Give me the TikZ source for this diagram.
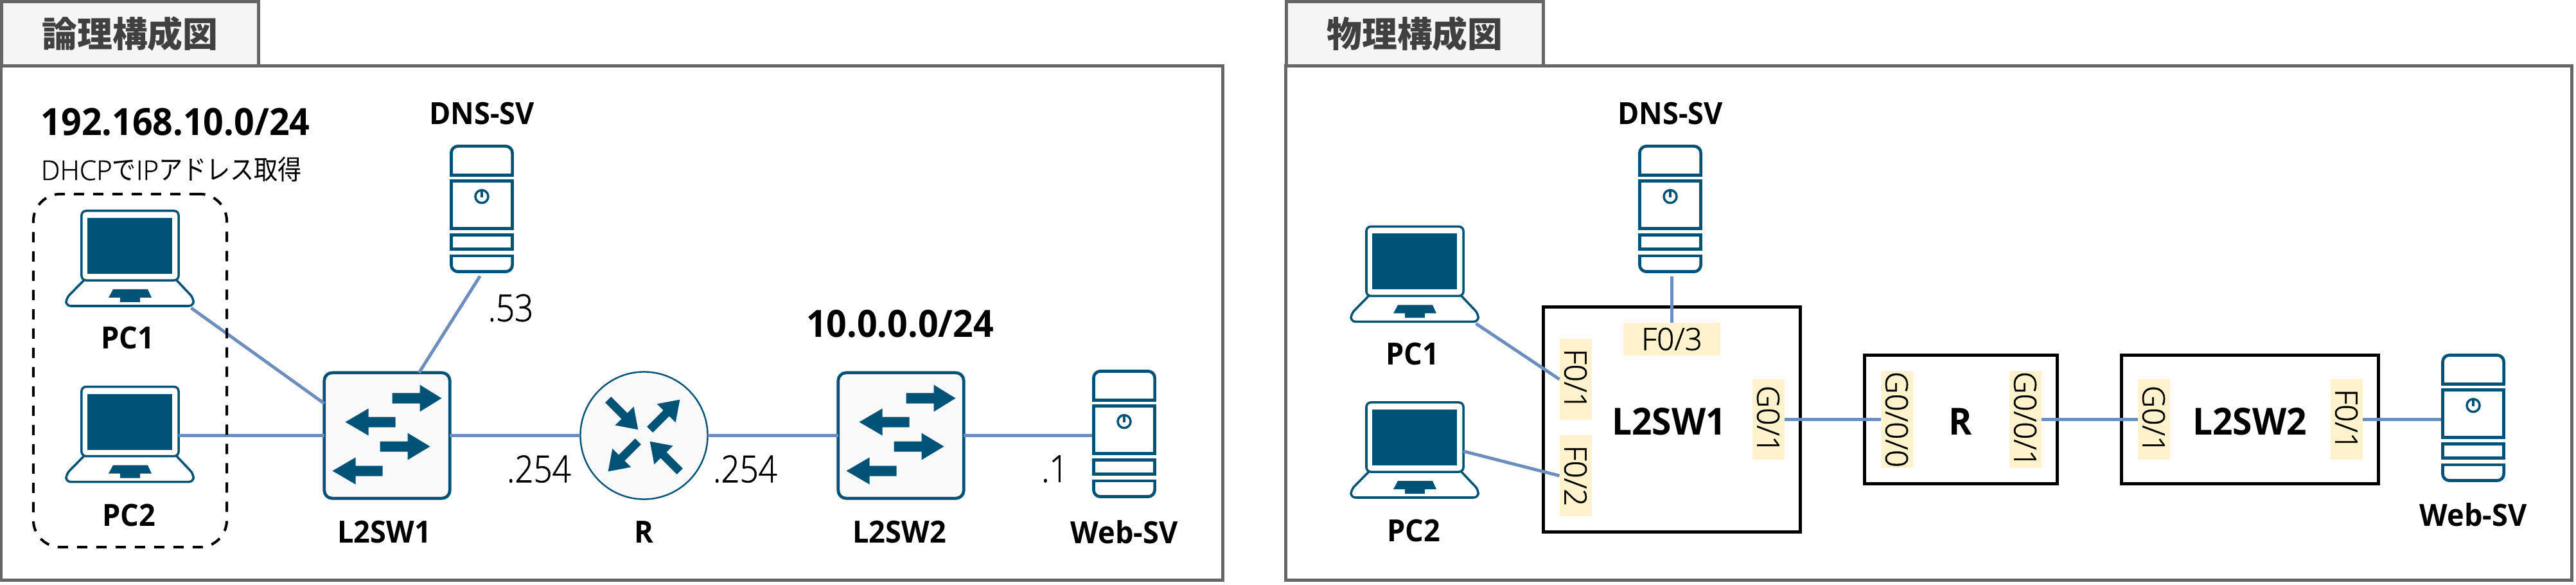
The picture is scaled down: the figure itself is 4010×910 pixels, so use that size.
\documentclass[tikz,border=0pt]{standalone}
\usepackage{fontspec}
\setmainfont[FakeStretch=0.95]{Open Sans}
\newfontfamily\jpfont{Noto Sans CJK JP}
\newfontfamily\jpnarrow[FakeStretch=0.88]{Noto Sans CJK JP}
\newfontfamily\thinfont[FakeStretch=0.88,FakeBold=1]{Open Sans Light}
\newfontfamily\lightfont[FakeBold=1]{Open Sans Light}
\definecolor{iconblue}{HTML}{005276}
\definecolor{wireblue}{HTML}{6C8EBF}
\definecolor{portyellow}{HTML}{FFF2CC}
\definecolor{panelgray}{HTML}{666666}
\definecolor{tabgray}{HTML}{F5F5F5}
\definecolor{tabtext}{HTML}{404040}
\tikzset{
	panel/.style={draw=panelgray,line width=1.42pt,inner sep=0,outer sep=0},
	tabbox/.style={panel,fill=tabgray,text=tabtext,minimum width=4cm,minimum height=1cm,font=\jpfont\fontsize{15.6}{18}\selectfont\bfseries},
	wire/.style={draw=wireblue,line width=1.4pt},
	devname/.style={font=\fontsize{13.5}{16}\selectfont\bfseries,inner sep=0},
	netname/.style={font=\fontsize{16.6}{19}\selectfont\bfseries,inner sep=0},
	iplabel/.style={font=\thinfont\fontsize{16.5}{19}\selectfont,inner sep=0},
	boxname/.style={font=\fontsize{16.5}{19}\selectfont\bfseries,inner sep=0},
	unitbox/.style={draw,line width=1.34pt,inner sep=0,outer sep=0},
	portlabel/.style={fill=portyellow,inner sep=0,outer sep=0,minimum height=0.5cm,font=\lightfont\fontsize{13.6}{16}\selectfont},
	vport/.style={portlabel,rotate=-90},
	iconline/.style={draw=iconblue,line width=1.34pt},
	laptop/.pic={
		\node[draw=iconblue,line width=1pt,fill=white,rounded corners=2pt,inner sep=0,outer sep=0,minimum width=1.51cm,minimum height=1.08cm] (-box) at (0,0) {};
		\coordinate (-port) at (95,97);
		\coordinate (-side) at (75.5,21.9);
		\fill[iconblue] (-66.5,-43) rectangle (65.5,44);
		\draw[draw=iconblue,line width=1pt,rounded corners=2pt] (-72,54) -- (-99.5,82) -- (-99.5,94) -- (98.5,94) -- (99,82) -- (72.5,54);
		\fill[iconblue] (-26.5,68) -- (27.5,68) -- (33.5,81) -- (15.5,81) -- (15.5,88) -- (-15.5,88) -- (-15.5,81) -- (-33.5,81) -- cycle;
	},
	server/.pic={
		\node[inner sep=0,outer sep=0,minimum width=1cm,minimum height=2cm] (-box) at (0,0) {};
		\draw[iconline,rounded corners=3pt] (-47.6,-52.3) -- (-47.6,-97.6) -- (47.6,-97.6) -- (47.6,-52.3);
		\draw[iconline] (-50,-52.3) -- (50,-52.3);
		\draw[iconline] (-47.6,-43.6) rectangle (47.6,30.3);
		\draw[iconline] (-47.6,40.7) rectangle (47.6,62.7);
		\draw[iconline] (-50,73) -- (50,73);
		\draw[iconline,rounded corners=3pt] (-47.6,73) -- (-47.6,97.6) -- (47.6,97.6) -- (47.6,73);
		\draw[iconblue,line width=1pt] (0,-19.3) circle (10);
		\draw[iconblue,line width=1pt] (0,-30) -- (0,-18);
	},
	switchicon/.pic={
		\node[iconline,fill=black!2,rounded corners=3.5pt,inner sep=0,outer sep=0,minimum width=1.953cm,minimum height=1.953cm] (-box) at (0,0) {};
		\foreach \xa/\xb/\xc/\yc in {8/51/85/-58,13/-29/-65/-21,-11/32/67/17,-7/-49/-85/55}
			\fill[iconblue] (\xa,\yc-8) -- (\xb,\yc-8) -- (\xb,\yc-21) -- (\xc,\yc) -- (\xb,\yc+21) -- (\xb,\yc+8) -- (\xa,\yc+8) -- cycle;
	},
	routericon/.pic={
		\node[circle,draw=iconblue,line width=0.7pt,fill=black!2,inner sep=0,outer sep=0,minimum size=1.98cm] (-box) at (0,0) {};
		\foreach \ang/\ra/\rb/\rc in {45/13/49/79,225/13/49/79,135/79/43/13,315/79/43/13}
			\fill[iconblue,rotate=\ang] (\ra,-6.5) -- (\rb,-6.5) -- (\rb,-20.5) -- (\rc,0) -- (\rb,20.5) -- (\rb,6.5) -- (\ra,6.5) -- cycle;
	}
}
\begin{document}
\begin{tikzpicture}[x=0.01cm,y=-0.01cm]
	\useasboundingbox (0,0) rectangle (4010,910);

	\node[panel,minimum width=19cm,minimum height=8cm] (logicpanel) at (952.5,502.5) {};
	\node[tabbox] (logictab) at (202.5,52.5) {論理構成図};
	\node[panel,minimum width=20cm,minimum height=8cm] (physpanel) at (3002.5,502.5) {};
	\node[tabbox] (phystab) at (2202.5,52.5) {物理構成図};

	\pic (lpc1) at (202.5,382) {laptop};
	\pic (lpc2) at (202.5,655.6) {laptop};
	\pic (ldns) at (750,325) {server};
	\pic (lsw1) at (602.5,677.5) {switchicon};
	\pic (lr) at (1002.5,677.5) {routericon};
	\pic (lsw2) at (1402.5,677.5) {switchicon};
	\pic (lweb) at (1750,675) {server};

	\draw[wire] (lpc1-port) -- (lsw1-box.153);
	\draw[wire] (lpc2-side) -- (lsw1-box.west);
	\draw[wire,shorten <=1.5pt] (ldns-box.south) -- (lsw1-box.63);
	\draw[wire] (lsw1-box.east) -- (lr-box.west);
	\draw[wire] (lr-box.east) -- (lsw2-box.west);
	\draw[wire] (lsw2-box.east) -- (lweb-box.west |- lsw2-box.east);

	\node[draw,line width=1.14pt,dash pattern=on 4.55pt off 3.98pt,rounded corners=12pt,inner sep=0,minimum width=3.01cm,minimum height=5.49cm] (dhcpgroup) at (202.5,576.5) {};

	\node[netname,anchor=west] (lan) at (63,190) {192.168.10.0/24};
	\node[anchor=west,inner sep=0,font=\fontsize{12}{15}\selectfont] (dhcp) at (63,264) {{\lightfont DHCP}{\jpnarrow で}{\lightfont IP}{\jpnarrow アドレス取得}};
	\node[netname] (wan) at (1401,504) {10.0.0.0/24};
	\node[devname] (ldnsname) at (750,177) {DNS-SV};
	\node[devname] (lpc1name) at (199,526) {PC1};
	\node[devname] (lpc2name) at (201,801.5) {PC2};
	\node[devname] (lsw1name) at (598,827.5) {L2SW1};
	\node[devname] (lrname) at (1002,827.5) {R};
	\node[devname] (lsw2name) at (1400,827.5) {L2SW2};
	\node[devname] (lwebname) at (1750,827.5) {Web-SV};
	\node[iplabel] (ipdns) at (795,479) {.53};
	\node[iplabel] (ipr1) at (839,729.5) {.254};
	\node[iplabel] (ipr2) at (1160,729.5) {.254};
	\node[iplabel] (ipweb) at (1642,729.5) {.1};

	\pic (ppc1) at (2202.5,406.4) {laptop};
	\pic (ppc2) at (2202.5,680) {laptop};
	\pic (pdns) at (2600,325) {server};
	\pic (pweb) at (3850,650) {server};

	\node[unitbox,minimum width=4cm,minimum height=3.5cm] (psw1) at (2602.5,652.5) {};
	\node[unitbox,minimum width=3cm,minimum height=2cm] (pr) at (3052.5,652.5) {};
	\node[unitbox,minimum width=4cm,minimum height=2cm] (psw2) at (3502.5,652.5) {};
	\node[boxname] (psw1name) at (2598,655.5) {L2SW1};
	\node[boxname] (prname) at (3052,655.5) {R};
	\node[boxname] (psw2name) at (3502,655.5) {L2SW2};

	\node[portlabel,minimum width=1.5cm] (f03) at (2602.5,527.5) {F0/3};
	\node[vport,minimum width=1.25cm] (f01) at (2452.5,590) {F0/1};
	\node[vport,minimum width=1.25cm] (f02) at (2452.5,740) {F0/2};
	\node[vport,minimum width=1.25cm] (g01) at (2752.5,652.5) {G0/1};
	\node[vport,minimum width=1.5cm] (g000) at (2952.5,652.5) {G0/0/0};
	\node[vport,minimum width=1.5cm] (g001) at (3152.5,652.5) {G0/0/1};
	\node[vport,minimum width=1.25cm] (g01b) at (3352.5,652.5) {G0/1};
	\node[vport,minimum width=1.25cm] (f01b) at (3652.5,652.5) {F0/1};

	\draw[wire] (ppc1-port) -- (f01.south);
	\draw[wire] (ppc2-side) -- (f02.south);
	\draw[wire,shorten <=1.5pt] (pdns-box.south -| f03.north) -- (f03.north);
	\draw[wire] (g01.north) -- (g000.south);
	\draw[wire] (g001.north) -- (g01b.south);
	\draw[wire] (f01b.north) -- (pweb-box.west |- f01b.north);

	\node[devname] (pdnsname) at (2600,177) {DNS-SV};
	\node[devname] (ppc1name) at (2199,551) {PC1};
	\node[devname] (ppc2name) at (2201,826) {PC2};
	\node[devname] (pwebname) at (3850,801) {Web-SV};
\end{tikzpicture}
\end{document}
